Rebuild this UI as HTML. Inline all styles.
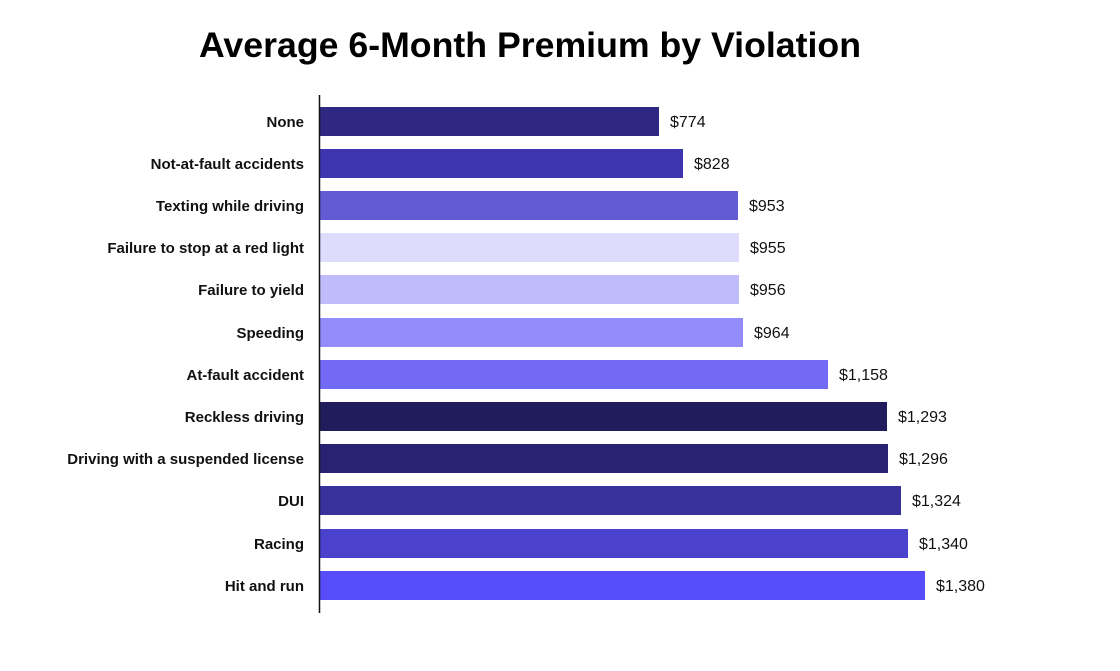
<!DOCTYPE html>
<html><head><meta charset="utf-8"><style>
html,body{margin:0;padding:0;background:#fff;}
svg{display:block;}
</style></head><body>
<svg width="1120" height="671" xmlns="http://www.w3.org/2000/svg" font-family="'Liberation Sans', sans-serif">
<rect width="1120" height="671" fill="#fff"/>
<text x="530" y="57" text-anchor="middle" font-size="35" font-weight="bold" fill="#000" textLength="662" lengthAdjust="spacingAndGlyphs">Average 6-Month Premium by Violation</text>
<g font-size="15" font-weight="bold" fill="#111" text-anchor="end">
<text x="304" y="127">None</text>
<text x="304" y="169">Not-at-fault accidents</text>
<text x="304" y="211">Texting while driving</text>
<text x="304" y="253">Failure to stop at a red light</text>
<text x="304" y="295">Failure to yield</text>
<text x="304" y="338">Speeding</text>
<text x="304" y="380">At-fault accident</text>
<text x="304" y="422">Reckless driving</text>
<text x="304" y="464">Driving with a suspended license</text>
<text x="304" y="506">DUI</text>
<text x="304" y="549">Racing</text>
<text x="304" y="591">Hit and run</text>
</g>
<g>
<rect x="320" y="107" width="339" height="29" fill="#2e2882"/>
<rect x="320" y="149" width="363" height="29" fill="#3d35b0"/>
<rect x="320" y="191" width="418" height="29" fill="#625bd4"/>
<rect x="320" y="233" width="419" height="29" fill="#dddcfc"/>
<rect x="320" y="275" width="419" height="29" fill="#c0bcfc"/>
<rect x="320" y="318" width="423" height="29" fill="#948cfa"/>
<rect x="320" y="360" width="508" height="29" fill="#7269f5"/>
<rect x="320" y="402" width="567" height="29" fill="#211c5c"/>
<rect x="320" y="444" width="568" height="29" fill="#272272"/>
<rect x="320" y="486" width="581" height="29" fill="#38319c"/>
<rect x="320" y="529" width="588" height="29" fill="#4a41cc"/>
<rect x="320" y="571" width="605" height="29" fill="#564df9"/>
</g>
<line x1="319.5" y1="95" x2="319.5" y2="613" stroke="#111" stroke-width="1.5"/>
<g font-size="16" fill="#111">
<text x="670" y="127">$774</text>
<text x="694" y="169">$828</text>
<text x="749" y="211">$953</text>
<text x="750" y="253">$955</text>
<text x="750" y="295">$956</text>
<text x="754" y="338">$964</text>
<text x="839" y="380">$1,158</text>
<text x="898" y="422">$1,293</text>
<text x="899" y="464">$1,296</text>
<text x="912" y="506">$1,324</text>
<text x="919" y="549">$1,340</text>
<text x="936" y="591">$1,380</text>
</g>
</svg>
</body></html>
